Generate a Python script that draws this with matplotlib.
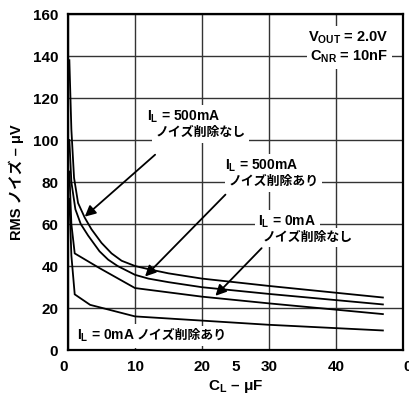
import matplotlib
matplotlib.use('Agg')
import matplotlib.pyplot as plt

###       DATA        ###
# RMS noise (uV) against load capacitance (uF)
cl_500_off = [0.2, 0.5, 0.9, 1.5, 2.5, 3.5, 5, 6.5, 8, 10, 12, 15, 20, 30, 47]
rms_500_off = [138, 105, 82, 70, 63, 57.5, 51, 46, 42.5, 40, 38.5, 36.5, 34, 30.5, 25]

cl_500_on = [0.2, 0.5, 1.1, 1.9, 3, 4.7, 6, 7.4, 10, 12, 15, 20, 30, 47]
rms_500_on = [100, 80, 67, 60, 54.5, 47, 43, 40, 35.8, 34, 32.3, 29.9, 26.7, 21.7]

cl_0_off = [0.2, 0.5, 1.0, 4.7, 10, 20, 30, 47]
rms_0_off = [85, 60, 46, 39, 29.5, 25.4, 22.2, 17.1]

cl_0_on = [0.2, 0.5, 1.0, 3.3, 10, 20, 30, 47]
rms_0_on = [72, 45, 26.5, 21.5, 16, 14, 12, 9.3]

x_ticks = [0, 10, 20, 30, 40, 50]
x_ticklabels = ['0', '10', '20', '30', '40', '0']
x_minor = [25]
x_minorlabels = ['5']
y_ticks = [0, 20, 40, 60, 80, 100, 120, 140, 160]
###                   ###

plt.rcParams['font.family'] = ['Liberation Sans', 'Noto Sans CJK JP']
plt.rcParams['font.weight'] = 'bold'
plt.rcParams['axes.labelweight'] = 'bold'
plt.rcParams['mathtext.fontset'] = 'custom'
plt.rcParams['mathtext.rm'] = 'Liberation Sans:bold'
plt.rcParams['mathtext.it'] = 'Liberation Sans:bold'
plt.rcParams['mathtext.bf'] = 'Liberation Sans:bold'

mydpi = 100
fig = plt.figure(figsize=(409/mydpi, 399/mydpi), dpi=mydpi)
ax = fig.add_axes([0.1663, 0.1228, 0.819, 0.8421])

for xs, ys in [(cl_500_off, rms_500_off), (cl_500_on, rms_500_on),
               (cl_0_off, rms_0_off), (cl_0_on, rms_0_on)]:
    ax.plot(xs, ys, color='black', lw=1.3, solid_joinstyle='miter', zorder=2)

ax.set_xlim(0, 50)
ax.set_ylim(0, 160)
ax.set_axisbelow(True)
ax.grid(True, which='major', color='#333333', lw=1.0)

ax.set_xticks(x_ticks, labels=x_ticklabels)
ax.set_xticks(x_minor, labels=x_minorlabels, minor=True)
ax.set_yticks(y_ticks)
ax.tick_params(which='both', length=0, labelsize=11, pad=7)
xl = ax.get_xticklabels()
xl[0].set_ha('right')
xl[-1].set_ha('left')

for sp in ax.spines.values():
    sp.set_linewidth(1.6)
    sp.set_zorder(5)

ax.set_xlabel('C$_\\mathrm{L}$ – μF', fontsize=11, fontweight='bold', labelpad=3)
ax.set_ylabel('RMS ノイズ – μV', fontsize=10.5, fontweight='bold', labelpad=6)

# labels with white backgrounds that break the grid
box = dict(facecolor='white', edgecolor='none', pad=2.5)
ax.text(47.8, 148.6, 'V$_\\mathrm{OUT}$ = 2.0V', ha='right', va='center', fontsize=10.5, bbox=box)
ax.text(47.8, 139.5, 'C$_\\mathrm{NR}$ = 10nF', ha='right', va='center', fontsize=10.5, bbox=box)

ax.text(11.8, 111, 'I$_\\mathrm{L}$ = 500mA', ha='left', va='center', fontsize=10, bbox=box)
ax.text(13.0, 103.2, 'ノイズ削除なし', ha='left', va='center', fontsize=9.3, fontweight='bold', bbox=box)

ax.text(23.4, 87.6, 'I$_\\mathrm{L}$ = 500mA', ha='left', va='center', fontsize=10, bbox=box)
ax.text(23.9, 80, 'ノイズ削除あり', ha='left', va='center', fontsize=9.3, fontweight='bold', bbox=box)

ax.text(28.4, 61, 'I$_\\mathrm{L}$ = 0mA', ha='left', va='center', fontsize=10, bbox=box)
ax.text(29.0, 53.6, 'ノイズ削除なし', ha='left', va='center', fontsize=9.3, fontweight='bold', bbox=box)

ax.text(1.3, 6.7, 'I$_\\mathrm{L}$ = 0mA', ha='left', va='center', fontsize=10, bbox=box)
ax.text(10.3, 6.7, 'ノイズ削除あり', ha='left', va='center', fontsize=9.3, fontweight='bold', bbox=box)

arrow = dict(arrowstyle='-|>', color='black', lw=1.3, mutation_scale=16, shrinkA=0, shrinkB=0)
ax.annotate('', xy=(2.5, 63.5), xytext=(13.0, 93), arrowprops=arrow)
ax.annotate('', xy=(11.5, 35), xytext=(23.5, 74), arrowprops=arrow)
ax.annotate('', xy=(22, 25.8), xytext=(28.9, 48.5), arrowprops=arrow)

plt.savefig('out.png', dpi=mydpi, facecolor='white')
